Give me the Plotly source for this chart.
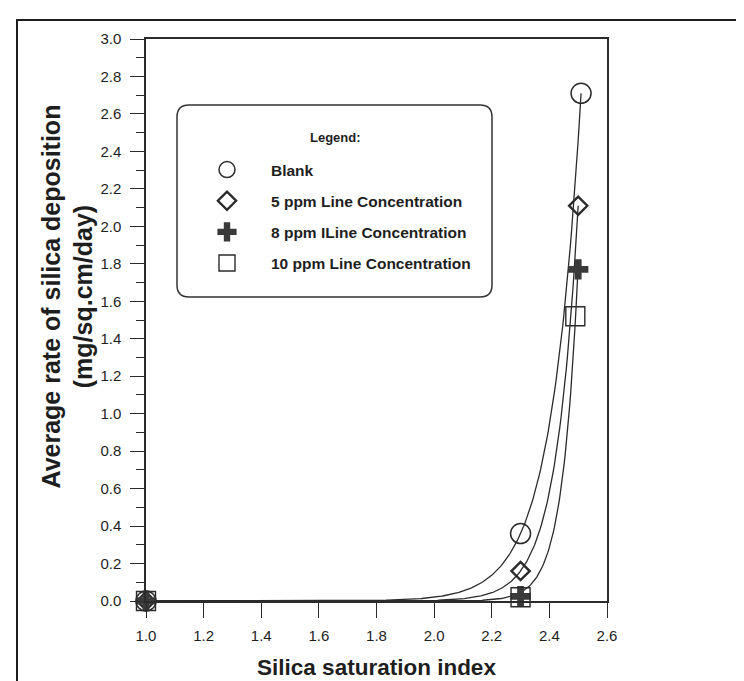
import numpy as np
import plotly.graph_objects as go

# ---- data ----
series_names = ["Blank", "5 ppm Line Concentration", "8 ppm ILine Concentration", "10 ppm Line Concentration"]
blank_x = [1.0, 2.3, 2.51]
blank_y = [0.0, 0.36, 2.71]
ppm5_x = [1.0, 2.3, 2.5]
ppm5_y = [0.0, 0.16, 2.11]
ppm8_x = [1.0, 2.3, 2.5]
ppm8_y = [0.0, 0.025, 1.77]
ppm10_x = [1.0, 2.3, 2.49]
ppm10_y = [0.0, 0.02, 1.52]

x_ticks = [1.0, 1.2, 1.4, 1.6, 1.8, 2.0, 2.2, 2.4, 2.6]
y_ticks = [round(0.2 * i, 1) for i in range(16)]

x_title = "Silica saturation index"
y_title = "Average rate of silica deposition<br>(mg/sq.cm/day)"
legend_title = "Legend:"

INK = "#2b2b2b"
FONT = "Liberation Sans, Arial, sans-serif"


def fit_exp(xs, ys, x0=2.5):
    """Least-squares fit of y = a*exp(b*(x-x0)) (exponential trend line)."""
    x = np.asarray(xs, float)
    y = np.asarray(ys, float)
    m = y > 0
    b, la = np.polyfit(x[m] - x0, np.log(y[m]), 1)
    a = np.exp(la)
    for _ in range(200):
        e = np.exp(b * (x - x0))
        f = a * e
        J = np.column_stack([e, a * (x - x0) * e])
        d, *_ = np.linalg.lstsq(J, y - f, rcond=None)
        step = 1.0
        old = np.sum((y - f) ** 2)
        while step > 1e-4:
            na, nb = a + step * d[0], b + step * d[1]
            if np.sum((y - na * np.exp(nb * (x - x0))) ** 2) <= old:
                break
            step /= 2
        a, b = a + step * d[0], b + step * d[1]
    return a, b, x0


fig = go.Figure()

# trend curves
curve_sets = [
    (blank_x, blank_y),
    (ppm5_x, ppm5_y),
    (ppm8_x + ppm10_x, ppm8_y + ppm10_y),
]
for xs, ys in curve_sets:
    a, b, x0 = fit_exp(xs, ys)
    xc = np.linspace(min(xs), max(xs), 400)
    yc = a * np.exp(b * (xc - x0))
    fig.add_trace(go.Scatter(x=xc, y=yc, mode="lines", showlegend=False,
                             line=dict(color=INK, width=1.3), hoverinfo="skip",
                             cliponaxis=False))

marker_styles = [
    dict(symbol="circle-open", size=20, color=INK, line=dict(width=1.5, color=INK)),
    dict(symbol="diamond-open", size=14, color=INK, line=dict(width=2.4, color=INK)),
    dict(symbol="cross", size=17, color="#3a3a3a", line=dict(width=0)),
    dict(symbol="square-open", size=19, color=INK, line=dict(width=1.4, color=INK)),
]
data_sets = [(blank_x, blank_y), (ppm5_x, ppm5_y), (ppm8_x, ppm8_y), (ppm10_x, ppm10_y)]
for i, ((xs, ys), name, ms) in enumerate(zip(data_sets, series_names, marker_styles)):
    fig.add_trace(go.Scatter(x=xs, y=ys, mode="markers", name=name, marker=ms,
                             cliponaxis=False, legendgroup=f"g{i}"))

# pixel helpers for decorations
L, R, T, B = 138, 145, 31, 88
W, H = 744, 681
PW, PH = W - L - R, H - T - B


def px(x):
    return (x - L) / PW


def py(y):
    return (H - B - y) / PH


# outer frame (top and left edges visible)
fig.add_shape(type="path", xref="paper", yref="paper",
              path=f"M {px(9)} {py(700)} L {px(9)} {py(12)} L {px(760)} {py(12)}",
              line=dict(color="#1e1e1e", width=2))

# rounded legend box
x0b, x1b, y0b, y1b, rr = 169, 484, 97, 289, 12
path = (f"M {px(x0b + rr)} {py(y0b)} L {px(x1b - rr)} {py(y0b)} "
        f"Q {px(x1b)} {py(y0b)} {px(x1b)} {py(y0b + rr)} "
        f"L {px(x1b)} {py(y1b - rr)} Q {px(x1b)} {py(y1b)} {px(x1b - rr)} {py(y1b)} "
        f"L {px(x0b + rr)} {py(y1b)} Q {px(x0b)} {py(y1b)} {px(x0b)} {py(y1b - rr)} "
        f"L {px(x0b)} {py(y0b + rr)} Q {px(x0b)} {py(y0b)} {px(x0b + rr)} {py(y0b)} Z")
fig.add_shape(type="path", xref="paper", yref="paper", path=path,
              line=dict(color="#333333", width=1.5))

fig.add_annotation(x=px(327), y=py(129), xref="paper", yref="paper",
                   text=legend_title, showarrow=False, xanchor="center", yanchor="middle",
                   font=dict(family=FONT, size=13, color="#1e1e1e", weight="bold"))

# y-axis title (two lines, rotated)
fig.add_annotation(x=px(58.5), y=py(289), xref="paper", yref="paper",
                   text=y_title, showarrow=False, textangle=-90,
                   xanchor="center", yanchor="middle",
                   font=dict(family=FONT, size=25, color="#1e1e1e", weight="bold"))

axis_common = dict(showline=True, linecolor=INK, linewidth=1.5, mirror=True,
                   ticks="outside", tickcolor=INK, tickwidth=1.3,
                   showgrid=False, zeroline=False,
                   tickfont=dict(family=FONT, size=15, color="#1e1e1e"))

fig.update_xaxes(range=[1.0, 2.6], tickvals=x_ticks,
                 ticktext=[f"{v:.1f}" for v in x_ticks], ticklen=15,
                 ticklabelstandoff=5,
                 title=dict(text=x_title, standoff=16,
                            font=dict(family=FONT, size=22.5, color="#1e1e1e", weight="bold")),
                 **axis_common)
fig.update_yaxes(range=[0, 3.0], tickvals=y_ticks,
                 ticktext=[f"{v:.1f}" for v in y_ticks], ticklen=14,
                 ticklabelstandoff=6,
                 minor=dict(dtick=0.1, tick0=0, ticklen=8, ticks="outside", tickcolor=INK, tickwidth=1.3),
                 **axis_common)

fig.update_layout(
    width=W, height=H,
    margin=dict(l=L, r=R, t=T, b=B, autoexpand=False),
    paper_bgcolor="white", plot_bgcolor="white",
    showlegend=True,
    legend=dict(x=px(175), y=py(145), xanchor="left", yanchor="top",
                bgcolor="rgba(0,0,0,0)", borderwidth=0,
                itemwidth=78, tracegroupgap=8, traceorder="grouped",
                font=dict(family=FONT, size=15.5, color="#1e1e1e", weight="bold")),
)

fig.write_html("out.html")
